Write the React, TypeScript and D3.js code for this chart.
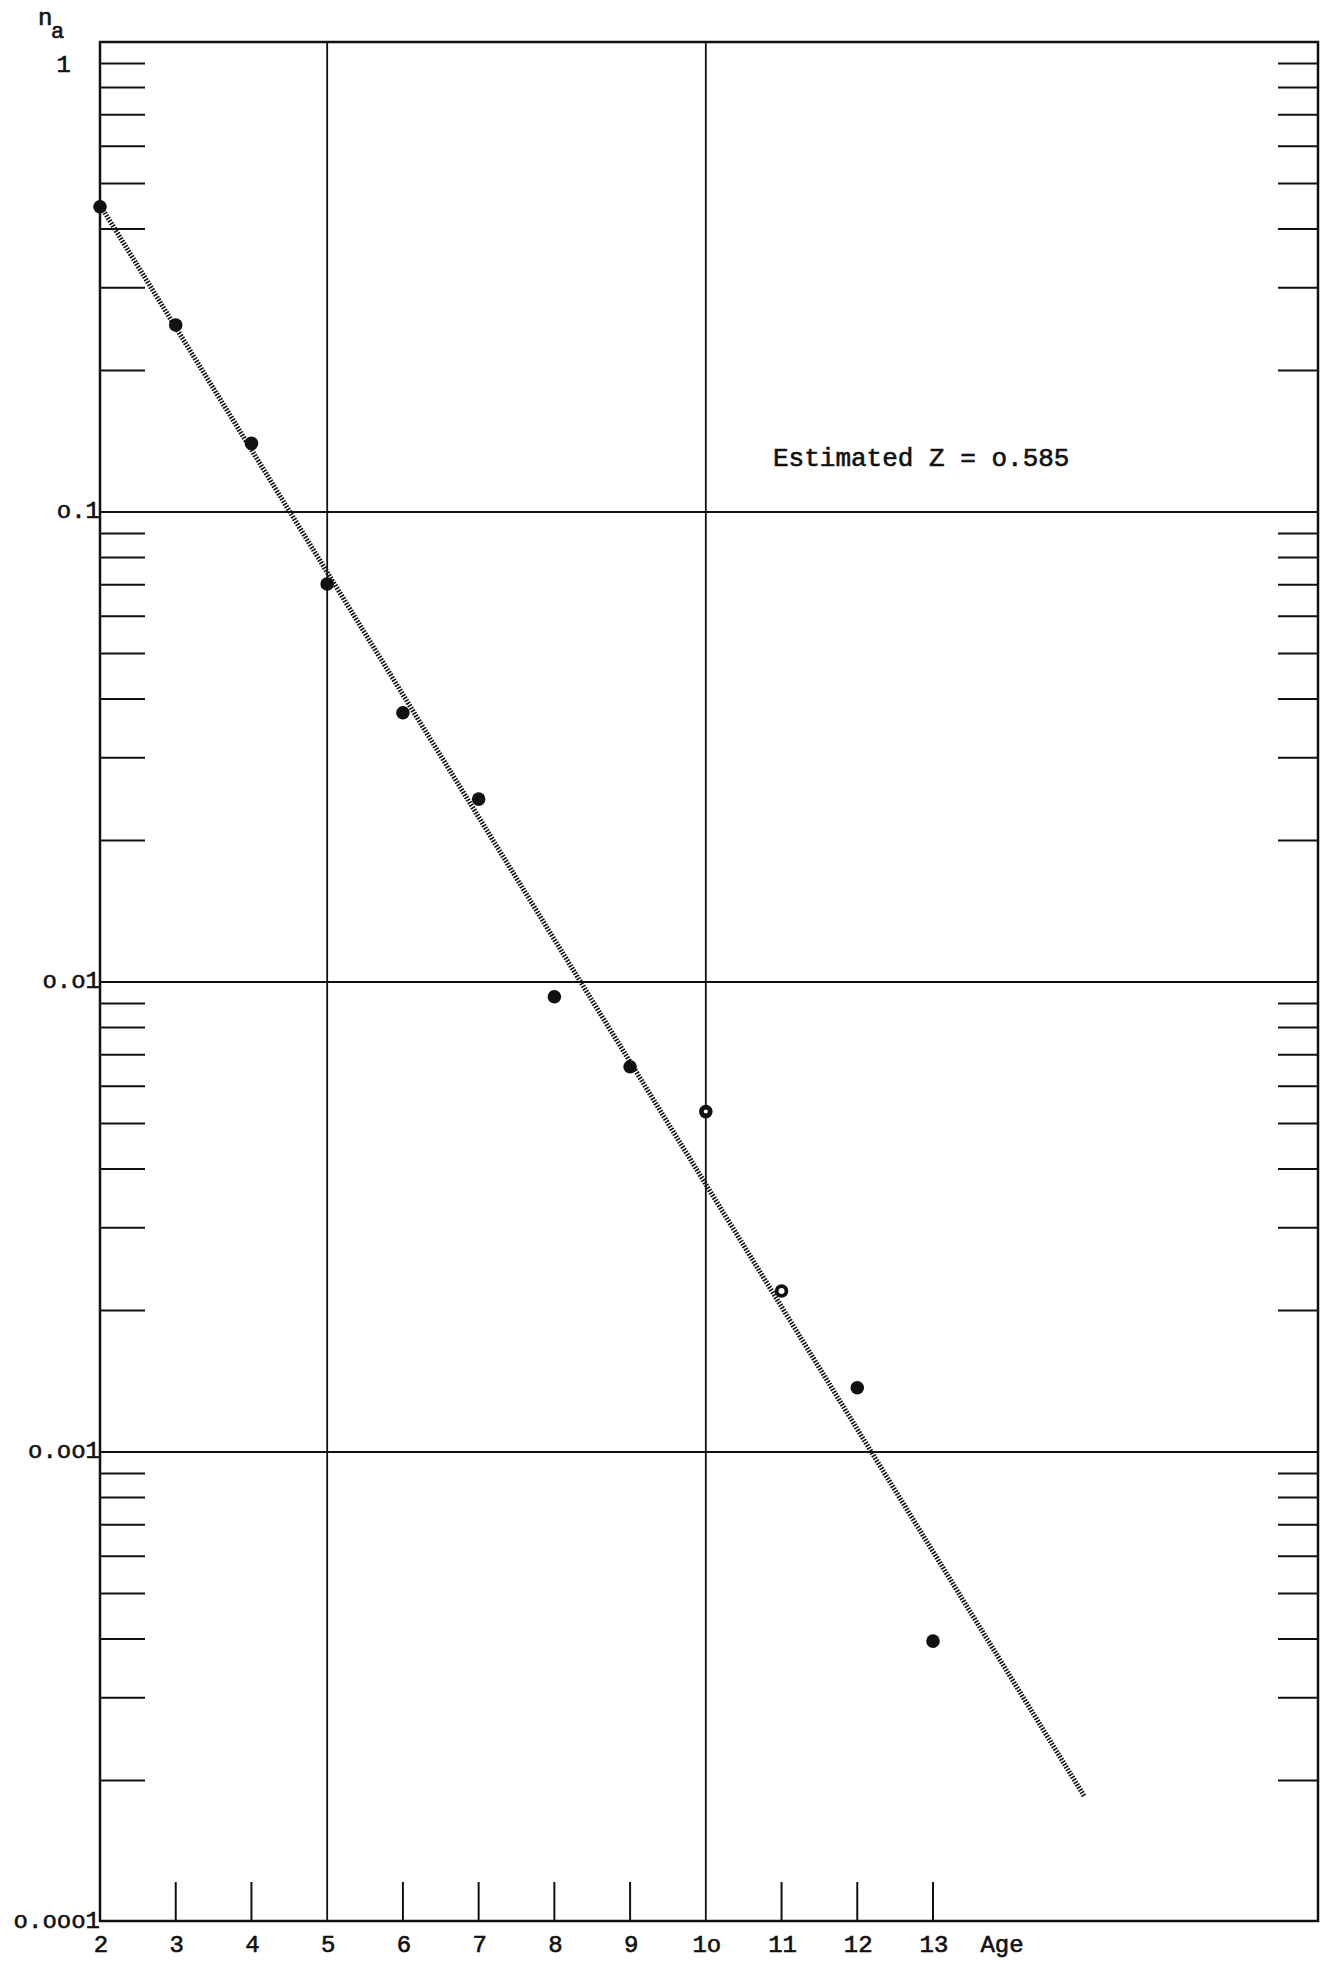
import React, { useEffect, useRef } from 'react';
import * as d3 from 'd3';

// catch curve data
const ages = [2, 3, 4, 5, 6, 7, 8, 9, 10, 11, 12, 13];
const na = [0.446, 0.25, 0.14, 0.0703, 0.0374, 0.0245, 0.0093, 0.0066, 0.0053, 0.0022, 0.00137, 0.000396];
// points drawn with a hollow centre
const hollowAges = [10, 11];

// fitted line end points
const fitAges = [2, 15];
const fitValues = [0.45, 0.000185];

const xTickAges = [2, 3, 4, 5, 6, 7, 8, 9, 10, 11, 12, 13];
const xTickLabels = ['2', '3', '4', '5', '6', '7', '8', '9', '1o', '11', '12', '13'];
const gridAges = [5, 10];

const yMajor = [1, 0.1, 0.01, 0.001, 0.0001];
const yLabels = ['1', 'o.1', 'o.o1', 'o.oo1', 'o.ooo1'];

const note = 'Estimated Z = o.585';

const W = 1326;
const H = 1961;
const FONT = '"Liberation Mono", "DejaVu Sans Mono", monospace';

function CatchCurve() {
  const ref = useRef<SVGSVGElement | null>(null);

  useEffect(() => {
    const frame = { left: 100, right: 1318, top: 42, bottom: 1921 };

    const x = d3.scaleLinear().domain([2, 13]).range([100, 933]);
    const y = d3.scaleLog().domain([1, 0.0001]).range([42, 1922]);

    const svg = d3.select(ref.current);
    svg.selectAll('*').remove();

    svg.append('rect').attr('width', W).attr('height', H).attr('fill', '#fff');

    const ink = '#111';

    // typewriter-ish text, a bit heavier than the plain font
    const typed = (sel: any, size = 24) =>
      sel
        .attr('font-family', FONT)
        .attr('font-size', size)
        .attr('fill', ink)
        .attr('stroke', ink)
        .attr('stroke-width', 0.6);

    // minor ticks on both sides (2..9 in every decade)
    const minor: number[] = [];
    for (let d = 0; d > -4; d--) {
      for (let k = 2; k <= 9; k++) minor.push(k * Math.pow(10, d - 1));
    }
    svg
      .selectAll('.tick-l')
      .data(minor)
      .enter()
      .append('line')
      .attr('x1', frame.left)
      .attr('x2', frame.left + 45)
      .attr('y1', (d) => y(d))
      .attr('y2', (d) => y(d))
      .attr('stroke', ink)
      .attr('stroke-width', 2);
    svg
      .selectAll('.tick-r')
      .data(minor)
      .enter()
      .append('line')
      .attr('x1', frame.right - 40)
      .attr('x2', frame.right)
      .attr('y1', (d) => y(d))
      .attr('y2', (d) => y(d))
      .attr('stroke', ink)
      .attr('stroke-width', 2);

    // decade lines
    svg
      .selectAll('.hgrid')
      .data(yMajor.filter((v) => v < 1 && v > 0.0001))
      .enter()
      .append('line')
      .attr('x1', frame.left)
      .attr('x2', frame.right)
      .attr('y1', (d) => y(d))
      .attr('y2', (d) => y(d))
      .attr('stroke', ink)
      .attr('stroke-width', 1.8);

    // vertical grid at 5 and 10
    svg
      .selectAll('.vgrid')
      .data(gridAges)
      .enter()
      .append('line')
      .attr('x1', (d) => x(d))
      .attr('x2', (d) => x(d))
      .attr('y1', frame.top)
      .attr('y2', frame.bottom)
      .attr('stroke', ink)
      .attr('stroke-width', 1.8);

    // bottom age ticks
    svg
      .selectAll('.xtick')
      .data(xTickAges.filter((a) => a !== 2 && !gridAges.includes(a)))
      .enter()
      .append('line')
      .attr('x1', (d) => x(d))
      .attr('x2', (d) => x(d))
      .attr('y1', frame.bottom)
      .attr('y2', frame.bottom - 39)
      .attr('stroke', ink)
      .attr('stroke-width', 2);

    // frame
    svg
      .append('rect')
      .attr('x', frame.left)
      .attr('y', frame.top)
      .attr('width', frame.right - frame.left)
      .attr('height', frame.bottom - frame.top)
      .attr('fill', 'none')
      .attr('stroke', ink)
      .attr('stroke-width', 2.5);

    // y labels
    typed(
      svg
        .selectAll('.ylab')
        .data(yMajor)
        .enter()
        .append('text')
        .attr('x', (d) => (d === 1 ? 71 : 100))
        .attr('y', (d) => (d === 1 ? 72 : y(d) + 6))
        .attr('text-anchor', 'end')
    ).text((d, i) => yLabels[i]);

    // n_a axis title
    typed(svg.append('text').attr('x', 38).attr('y', 25)).text('n');
    typed(svg.append('text').attr('x', 51).attr('y', 38), 22).text('a');

    // x labels
    typed(
      svg
        .selectAll('.xlab')
        .data(xTickAges)
        .enter()
        .append('text')
        .attr('x', (d) => x(d) + 1)
        .attr('y', 1952)
        .attr('text-anchor', 'middle')
    ).text((d, i) => xTickLabels[i]);
    typed(svg.append('text').attr('x', 1002).attr('y', 1952).attr('text-anchor', 'middle')).text('Age');

    // fitted dotted line
    const fit = fitAges.map((a, i) => [a, fitValues[i]] as [number, number]);
    svg
      .append('path')
      .datum(fit)
      .attr(
        'd',
        d3
          .line<[number, number]>()
          .x((d) => x(d[0]))
          .y((d) => y(d[1]))
      )
      .attr('fill', 'none')
      .attr('stroke', ink)
      .attr('stroke-width', 5)
      .attr('stroke-dasharray', '1.6,1.4');

    // observed points
    const pts = ages.map((a, i) => ({ age: a, v: na[i] }));
    svg
      .selectAll('.pt')
      .data(pts)
      .enter()
      .append('circle')
      .attr('cx', (d) => x(d.age))
      .attr('cy', (d) => y(d.v))
      .attr('r', 6.8)
      .attr('fill', ink);
    svg
      .selectAll('.hole')
      .data(pts.filter((d) => hollowAges.includes(d.age)))
      .enter()
      .append('circle')
      .attr('cx', (d) => x(d.age))
      .attr('cy', (d) => y(d.v))
      .attr('r', (d) => (d.age === 11 ? 3 : 2))
      .attr('fill', '#fff');

    // annotation
    typed(svg.append('text').attr('x', 773).attr('y', 466), 26).text(note);
  }, []);

  return <svg ref={ref} width={W} height={H} style={{ display: 'block' }} />;
}

export default function App() {
  return (
    <div style={{ position: 'absolute', left: 0, top: 0 }}>
      <CatchCurve />
    </div>
  );
}
